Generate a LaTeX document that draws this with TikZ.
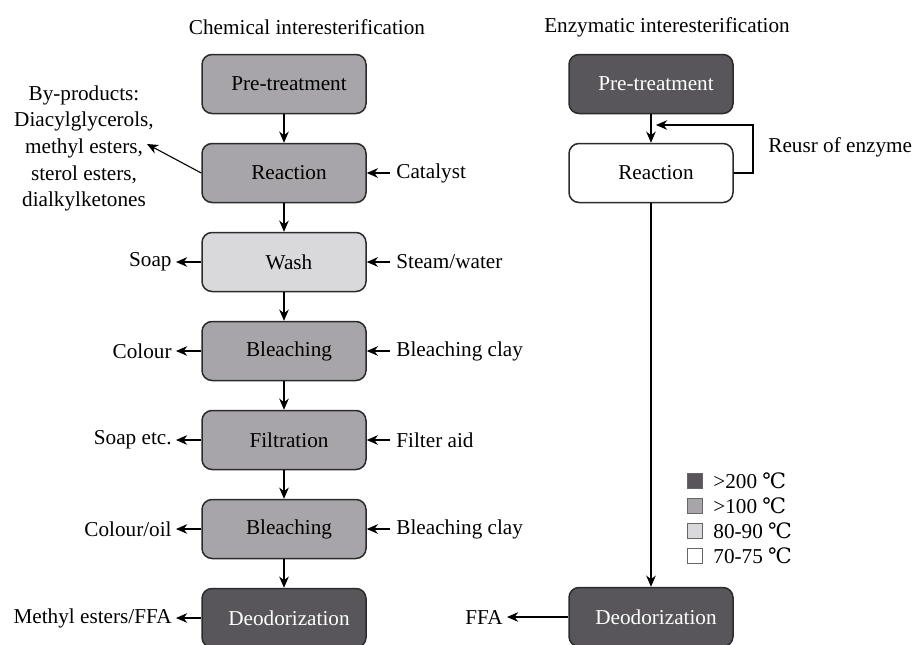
\documentclass[tikz,border=0pt]{standalone}
\usepackage{fontspec}
\setmainfont{Liberation Serif}
\newfontfamily\degfont{DejaVu Serif}
\usetikzlibrary{arrows.meta}
\definecolor{cdark}{HTML}{58565A}
\definecolor{cmid}{HTML}{A7A5A9}
\definecolor{clight}{HTML}{D9D8DB}
\definecolor{cedge}{HTML}{2B2B2B}
\newcommand\mydegc{{\degfont ℃}}
\begin{document}
\begin{tikzpicture}[x=0.5pt,y=-0.5pt,
  every node/.style={font=\fontsize{10.6}{13.35}\selectfont},
  proc/.style={draw=cedge, line width=0.75pt, rounded corners=5pt,
    minimum width=82pt, minimum height=29.5pt, inner sep=0pt,
    execute at begin node=\hspace*{5pt}},
  arr/.style={-{Stealth[length=5.6pt,width=4.8pt,inset=1.8pt]}, line width=0.55pt},
  inlab/.style={anchor=west, inner sep=3pt},
  outlab/.style={anchor=east, inner sep=2pt},
  sq/.style={draw=black!60, line width=0.5pt, minimum size=7.5pt, inner sep=0pt}]
\useasboundingbox (0,0) rectangle (912,644);

% titles
\node (t1) at (307,27) {Chemical interesterification};
\node (t2) at (667,27) {Enzymatic interesterification};

% chemical column
\node[proc,fill=cmid] (L1) at (284,84) {Pre-treatment};
\node[proc,fill=cmid] (L2) at (284,173) {Reaction};
\node[proc,fill=clight] (L3) at (284,262) {Wash};
\node[proc,fill=cmid] (L4) at (284,351) {Bleaching};
\node[proc,fill=cmid] (L5) at (284,440) {Filtration};
\node[proc,fill=cmid] (L6) at (284,529) {Bleaching};
\node[proc,fill=cdark,text=white] (L7) at (284,618) {Deodorization};

\draw[arr] (L1) -- (L2);
\draw[arr] (L2) -- (L3);
\draw[arr] (L3) -- (L4);
\draw[arr] (L4) -- (L5);
\draw[arr] (L5) -- (L6);
\draw[arr] (L6) -- (L7);

% inputs
\coordinate (i2) at (390,173);
\coordinate (i3) at (390,262);
\coordinate (i4) at (390,351);
\coordinate (i5) at (390,440);
\coordinate (i6) at (390,529);
\draw[arr] (i2) -- (L2.east);
\draw[arr] (i3) -- (L3.east);
\draw[arr] (i4) -- (L4.east);
\draw[arr] (i5) -- (L5.east);
\draw[arr] (i6) -- (L6.east);
\node[inlab] (n2) at (i2) {Catalyst};
\node[inlab] (n3) at (i3) {Steam/water};
\node[inlab] (n4) at (i4) {Bleaching clay};
\node[inlab] (n5) at (i5) {Filter aid};
\node[inlab] (n6) at (i6) {Bleaching clay};

% outputs
\coordinate (bp) at (147,144);
\coordinate (o3) at (176,262);
\coordinate (o4) at (176,351);
\coordinate (o5) at (176,440);
\coordinate (o6) at (176,529);
\coordinate (o7) at (176,618);
\draw[arr] (L2.west) -- (bp);
\draw[arr] (L3.west) -- (o3);
\draw[arr] (L4.west) -- (o4);
\draw[arr] (L5.west) -- (o5);
\draw[arr] (L6.west) -- (o6);
\draw[arr] (L7.west) -- (o7);
\node[align=center, inner sep=0pt] (byp) at (84,148.5) {By-products:\\Diacylglycerols,\\methyl esters,\\sterol esters,\\dialkylketones};
\node[outlab] (m3) at (o3) {Soap};
\node[outlab] (m4) at (o4) {Colour};
\node[outlab] (m5) at (o5) {Soap etc.};
\node[outlab] (m6) at (o6) {Colour/oil};
\node[outlab] (m7) at (o7) {Methyl esters/FFA};

% enzymatic column
\node[proc,fill=cdark,text=white] (R1) at (651,84) {Pre-treatment};
\node[proc,fill=white] (R2) at (651,173) {Reaction};
\node[proc,fill=cdark,text=white] (R3) at (651,617) {Deodorization};
\draw[arr] (R1) -- (R2);
\coordinate (lp1) at (753,173);
\coordinate (lp2) at (753,125);
\coordinate (lp3) at (656,125);
\draw[arr] (R2.east) -- (lp1) -- (lp2) -- (lp3);
\node[anchor=west, inner sep=0pt] (reuse) at (768,147) {Reusr of enzyme};
\draw[arr] (R2) -- (R3);
\coordinate (ffa) at (507,617);
\draw[arr] (R3.west) -- (ffa);
\node[outlab] (ffat) at (ffa) {FFA};

% legend
\node[sq,fill=cdark] (k1) at (694.5,481) {};
\node[sq,fill=cmid] (k2) at (694.5,506) {};
\node[sq,fill=clight] (k3) at (694.5,531) {};
\node[sq,fill=white] (k4) at (694.5,556) {};
\node[anchor=west, inner sep=0pt] (kt1) at (713,481) {>200 \mydegc};
\node[anchor=west, inner sep=0pt] (kt2) at (713,506) {>100 \mydegc};
\node[anchor=west, inner sep=0pt] (kt3) at (713,531) {80-90 \mydegc};
\node[anchor=west, inner sep=0pt] (kt4) at (713,556) {70-75 \mydegc};
\end{tikzpicture}
\end{document}
